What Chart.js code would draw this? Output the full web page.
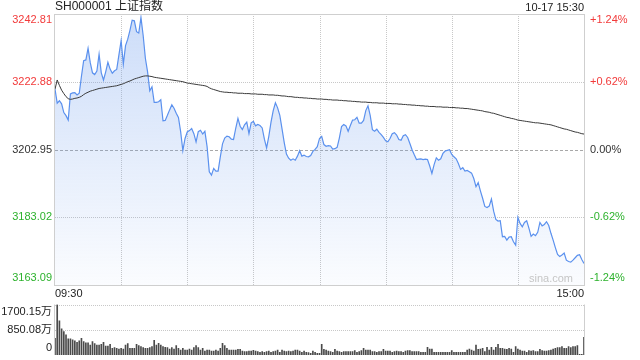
<!DOCTYPE html>
<html><head><meta charset="utf-8">
<script src="https://cdn.jsdelivr.net/npm/chart.js@4.4.1/dist/chart.umd.min.js"></script>
<style>
html,body{margin:0;padding:0;background:#fff;}
#wrap{position:relative;width:640px;height:360px;overflow:hidden;}
canvas{position:absolute;left:0;top:0;}
</style></head><body>
<div id="wrap"><canvas id="main" width="640" height="360"></canvas><canvas id="vol" width="640" height="360"></canvas></div>
<script>
const titleText = 'SH000001 上证指数';
const stampText = '10-17 15:30';
const watermark = 'sina.com';
const prevClose = 3202.95;
const priceTicks = [3242.81, 3222.88, 3202.95, 3183.02, 3163.09];
const priceTickLabels = ['3242.81', '3222.88', '3202.95', '3183.02', '3163.09'];
const pctTickLabels = ['+1.24%', '+0.62%', '0.00%', '-0.62%', '-1.24%'];
const tickColors = ['#f23a3a', '#f23a3a', '#333333', '#2db22d', '#2db22d'];
const volTicks = [1700.15, 850.08, 0];
const volTickLabels = ['1700.15万', '850.08万', '0'];
const timeAxisLabels = ['09:30', '15:00'];

const price = [
3220.7,3216.6,3217.3,3216.4,3213.8,3212.9,3211.6,3219.3,3219.6,3219.7,
3219.0,3219.5,3224.5,3229.1,3229.3,3232.7,3228.5,3225.5,3225.0,3226.0,
3231.0,3225.5,3223.4,3225.8,3228.6,3226.6,3225.4,3226.1,3226.5,3230.8,
3235.0,3228.1,3233.5,3235.4,3238.0,3241.0,3240.8,3237.6,3237.2,3241.8,
3236.5,3229.8,3225.8,3220.2,3221.4,3216.8,3216.8,3217.0,3217.6,3211.4,
3211.5,3213.0,3214.6,3216.1,3215.1,3213.6,3212.4,3208.2,3202.6,3206.2,
3208.1,3208.5,3209.1,3207.6,3205.2,3208.2,3208.6,3207.5,3208.3,3203.8,
3196.4,3195.4,3197.4,3196.6,3196.6,3200.8,3204.6,3206.3,3206.9,3206.7,
3206.0,3205.9,3209.2,3212.1,3209.8,3208.8,3210.2,3211.0,3207.6,3210.8,
3211.2,3209.9,3210.3,3210.0,3209.3,3206.0,3203.4,3206.8,3211.0,3214.4,
3216.7,3215.2,3213.0,3209.0,3205.0,3201.6,3200.4,3199.8,3200.2,3199.8,
3201.0,3202.6,3201.0,3201.3,3200.9,3200.8,3201.2,3202.4,3203.0,3203.8,
3206.2,3206.8,3204.4,3203.9,3204.1,3204.0,3203.1,3203.2,3203.6,3206.3,
3209.7,3210.3,3209.9,3208.3,3210.0,3211.6,3211.7,3212.4,3210.7,3210.7,
3211.5,3214.4,3215.8,3213.0,3208.8,3208.3,3208.9,3208.0,3207.3,3206.5,
3205.5,3205.2,3206.2,3207.6,3207.9,3207.2,3205.9,3205.7,3207.0,3207.3,
3206.5,3204.7,3202.9,3201.4,3200.0,3200.1,3200.2,3200.0,3200.1,3200.0,
3198.1,3195.9,3198.5,3200.5,3199.8,3200.2,3201.8,3202.5,3202.7,3202.9,
3201.5,3200.8,3200.2,3198.8,3197.1,3197.6,3196.6,3196.8,3196.4,3196.0,
3194.4,3192.0,3193.2,3190.8,3188.6,3186.2,3185.9,3186.3,3188.4,3184.8,
3182.4,3181.9,3182.0,3177.3,3177.4,3176.3,3177.2,3177.3,3175.8,3174.8,
3183.0,3181.2,3180.2,3181.5,3182.0,3179.8,3177.4,3178.1,3177.6,3178.6,
3181.5,3180.5,3180.9,3181.7,3180.6,3178.3,3176.3,3174.1,3172.1,3171.5,
3171.9,3172.5,3170.4,3170.0,3169.8,3170.4,3171.1,3171.8,3172.0,3170.6,
3169.4
];

const avgPrice = [
3220.7,3223.4,3221.8,3220.4,3219.4,3218.5,3217.9,3217.7,3217.8,3218.0,
3218.1,3218.3,3218.6,3219.1,3219.5,3219.8,3220.1,3220.3,3220.5,3220.7,
3220.9,3221.0,3221.1,3221.2,3221.3,3221.4,3221.5,3221.6,3221.7,3221.9,
3222.1,3222.3,3222.6,3222.9,3223.1,3223.4,3223.7,3223.9,3224.1,3224.3,
3224.5,3224.6,3224.6,3224.5,3224.4,3224.2,3224.1,3224.0,3223.9,3223.8,
3223.7,3223.6,3223.5,3223.4,3223.3,3223.2,3223.1,3223.0,3222.9,3222.7,
3222.5,3222.4,3222.3,3222.2,3222.1,3222.0,3221.9,3221.8,3221.7,3221.5,
3221.1,3220.8,3220.6,3220.4,3220.2,3220.0,3219.9,3219.8,3219.8,3219.7,
3219.7,3219.6,3219.6,3219.5,3219.5,3219.5,3219.4,3219.4,3219.4,3219.3,
3219.3,3219.3,3219.2,3219.2,3219.2,3219.1,3219.1,3219.0,3219.0,3219.0,
3218.9,3218.9,3218.8,3218.7,3218.7,3218.6,3218.5,3218.5,3218.4,3218.3,
3218.3,3218.2,3218.2,3218.1,3218.1,3218.0,3218.0,3217.9,3217.9,3217.8,
3217.8,3217.8,3217.7,3217.7,3217.6,3217.6,3217.5,3217.5,3217.5,3217.4,
3217.4,3217.3,3217.3,3217.2,3217.2,3217.1,3217.1,3217.0,3217.0,3216.9,
3216.9,3216.9,3216.8,3216.8,3216.7,3216.7,3216.7,3216.6,3216.6,3216.6,
3216.5,3216.5,3216.5,3216.4,3216.4,3216.4,3216.3,3216.3,3216.2,3216.2,
3216.1,3216.1,3216.0,3216.0,3215.9,3215.9,3215.8,3215.8,3215.7,3215.7,
3215.6,3215.6,3215.6,3215.5,3215.5,3215.5,3215.4,3215.4,3215.4,3215.3,
3215.3,3215.3,3215.2,3215.2,3215.1,3215.1,3215.0,3215.0,3214.9,3214.8,
3214.7,3214.6,3214.5,3214.4,3214.3,3214.1,3214.0,3213.9,3213.7,3213.6,
3213.4,3213.2,3213.0,3212.8,3212.6,3212.4,3212.3,3212.1,3212.0,3211.8,
3211.6,3211.5,3211.4,3211.3,3211.2,3211.1,3211.0,3210.9,3210.8,3210.8,
3210.7,3210.6,3210.5,3210.4,3210.3,3210.2,3210.0,3209.8,3209.6,3209.4,
3209.2,3209.0,3208.9,3208.7,3208.5,3208.3,3208.1,3208.0,3207.8,3207.6,
3207.5
];

const volume = [
564,1700.15,1150,879,789,676,541,541,507,473,
428,473,564,451,406,406,338,451,383,338,
338,361,428,304,304,361,225,248,225,203,
225,203,338,383,225,225,225,361,316,282,
248,225,225,248,282,496,338,394,338,282,
259,248,203,248,203,316,225,169,225,169,
169,203,169,248,316,248,169,225,135,169,
169,135,135,169,135,225,394,316,225,169,
169,169,169,192,192,135,113,113,135,135,
158,135,113,90,113,90,113,135,90,113,
135,169,90,169,135,113,135,113,135,169,
169,135,90,135,90,79,56,135,90,56,
56,
361,192,169,135,113,90,192,135,113,90,
113,113,113,113,113,147,90,113,147,225,
169,169,169,113,113,90,113,113,192,135,
135,135,90,113,135,113,113,90,135,147,
147,113,113,113,113,90,90,90,259,203,
203,90,90,90,90,90,90,90,90,147,
90,90,90,90,90,90,169,203,169,135,
338,192,203,225,113,259,169,259,169,259,
361,225,225,203,192,225,203,90,282,203,
169,135,135,90,147,135,147,113,113,192,
147,135,135,147,169,203,225,248,248,282,
225,225,282,248,282,282,316,23,23,597
];

// minute categories: 09:30-11:30, 13:01-15:00
const minutes = [];
for (let m = 9 * 60 + 30; m <= 11 * 60 + 30; m++) minutes.push(String(Math.floor(m / 60)).padStart(2, '0') + ':' + String(m % 60).padStart(2, '0'));
for (let m = 13 * 60 + 1; m <= 15 * 60; m++) minutes.push(String(Math.floor(m / 60)).padStart(2, '0') + ':' + String(m % 60).padStart(2, '0'));

const FONT = '"Liberation Sans", Arial, "Noto Sans CJK SC", sans-serif';
const PAD_L = 55, PAD_R = 56;

function hline(ctx, x1, x2, y) { ctx.beginPath(); ctx.moveTo(x1, y); ctx.lineTo(x2, y); ctx.stroke(); }
function vline(ctx, x, y1, y2) { ctx.beginPath(); ctx.moveTo(x, y1); ctx.lineTo(x, y2); ctx.stroke(); }

const mainGrid = {
  id: 'mainGrid',
  beforeDatasetsDraw(chart) {
    const { ctx, chartArea: a, scales: { x, y } } = chart;
    ctx.save();
    ctx.lineWidth = 1;
    ctx.strokeStyle = '#c8c8c8';
    ctx.setLineDash([1, 1]);
    for (let k = 30; k < minutes.length - 1; k += 30) {
      const px = Math.round(x.getPixelForValue(k)) + 0.5;
      vline(ctx, px, a.top, a.bottom);
    }
    priceTicks.forEach((v, k) => {
      if (k === 0 || k === priceTicks.length - 1 || v === prevClose) return;
      hline(ctx, a.left, a.right, Math.round(y.getPixelForValue(v)) + 0.5);
    });
    ctx.strokeStyle = '#a8a8a8';
    ctx.setLineDash([3, 2]);
    hline(ctx, a.left, a.right, Math.round(y.getPixelForValue(prevClose)) + 0.5);
    ctx.restore();
  },
  afterDraw(chart) {
    const { ctx, chartArea: a, scales: { y } } = chart;
    ctx.save();
    ctx.strokeStyle = '#cfcfcf';
    ctx.lineWidth = 1;
    ctx.setLineDash([]);
    ctx.strokeRect(Math.round(a.left) - 0.5, Math.round(a.top) + 0.5, Math.round(a.right - a.left) + 1, Math.round(a.bottom - a.top));
    ctx.font = '11px ' + FONT;
    ctx.textBaseline = 'middle';
    priceTicks.forEach((v, k) => {
      let py = y.getPixelForValue(v);
      if (k === 0) py += 6; else if (k === priceTicks.length - 1) py -= 7;
      ctx.fillStyle = tickColors[k];
      ctx.textAlign = 'right';
      ctx.fillText(priceTickLabels[k], a.left - 3, py);
      ctx.textAlign = 'left';
      ctx.fillText(pctTickLabels[k], a.right + 6, py);
    });
    ctx.fillStyle = '#222';
    ctx.font = '12px ' + FONT;
    ctx.textAlign = 'left';
    ctx.fillText(titleText, a.left, 7);
    ctx.font = '11px ' + FONT;
    ctx.textAlign = 'right';
    ctx.fillText(stampText, a.right, 8);
    ctx.fillText(timeAxisLabels[1], a.right, a.bottom + 9);
    ctx.textAlign = 'left';
    ctx.fillText(timeAxisLabels[0], a.left, a.bottom + 9);
    ctx.fillStyle = '#c6c6c6';
    ctx.font = '11px ' + FONT;
    ctx.textAlign = 'right';
    ctx.fillText(watermark, a.right - 11, a.bottom - 6);
    ctx.restore();
  }
};

new Chart(document.getElementById('main'), {
  type: 'line',
  data: {
    labels: minutes,
    datasets: [
      {
        data: avgPrice, borderColor: '#3a3a3a', borderWidth: 1, pointRadius: 0, fill: false, tension: 0, order: 0
      },
      {
        data: price, borderColor: '#5b91ee', borderWidth: 1.2, pointRadius: 0, tension: 0, order: 1,
        fill: 'start',
        backgroundColor: (c) => {
          const a = c.chart.chartArea;
          if (!a) return 'rgba(120,165,240,0.3)';
          const g = c.chart.ctx.createLinearGradient(0, a.top, 0, a.bottom);
          g.addColorStop(0, 'rgba(115,160,238,0.36)');
          g.addColorStop(1, 'rgba(115,160,238,0.03)');
          return g;
        }
      }
    ]
  },
  options: {
    responsive: false, animation: false, devicePixelRatio: 1,
    layout: { autoPadding: false, padding: { left: PAD_L, right: PAD_R, top: 14, bottom: 75 } },
    plugins: { legend: { display: false }, tooltip: { enabled: false } },
    scales: {
      x: { type: 'category', display: false, offset: false },
      y: { display: false, min: priceTicks[priceTicks.length - 1], max: priceTicks[0] }
    }
  },
  plugins: [mainGrid]
});

const volGrid = {
  id: 'volGrid',
  beforeDatasetsDraw(chart) {
    const { ctx, chartArea: a, scales: { y } } = chart;
    ctx.save();
    ctx.lineWidth = 1;
    ctx.strokeStyle = '#c8c8c8';
    ctx.setLineDash([1, 1]);
    volTicks.forEach((v) => { if (v === 0) return; hline(ctx, a.left, a.right, Math.round(y.getPixelForValue(v)) + 0.5); });
    ctx.setLineDash([]);
    ctx.strokeStyle = '#cfcfcf';
    vline(ctx, Math.round(a.left) - 0.5, a.top, a.bottom);
    vline(ctx, Math.round(a.right) + 0.5, a.top, a.bottom);
    ctx.restore();
  },
  afterDraw(chart) {
    const { ctx, chartArea: a, scales: { y } } = chart;
    ctx.save();
    ctx.font = '11px ' + FONT;
    ctx.fillStyle = '#222';
    ctx.textAlign = 'right';
    ctx.textBaseline = 'middle';
    volTicks.forEach((v, k) => {
      let py = y.getPixelForValue(v);
      if (k === 0) py += 7; else if (k === volTicks.length - 1) py -= 7;
      ctx.fillText(volTickLabels[k], a.left - 3, py);
    });
    ctx.restore();
  }
};

new Chart(document.getElementById('vol'), {
  type: 'bar',
  data: {
    labels: minutes,
    datasets: [{ data: volume, backgroundColor: '#4a4a4a', barThickness: 1, borderWidth: 0 }]
  },
  options: {
    responsive: false, animation: false, devicePixelRatio: 1,
    layout: { autoPadding: false, padding: { left: PAD_L, right: PAD_R, top: 304.5, bottom: 5 } },
    plugins: { legend: { display: false }, tooltip: { enabled: false } },
    scales: {
      x: { type: 'category', display: false, offset: false },
      y: { display: false, min: 0, max: volTicks[0] }
    }
  },
  plugins: [volGrid]
});
</script>
</body></html>
